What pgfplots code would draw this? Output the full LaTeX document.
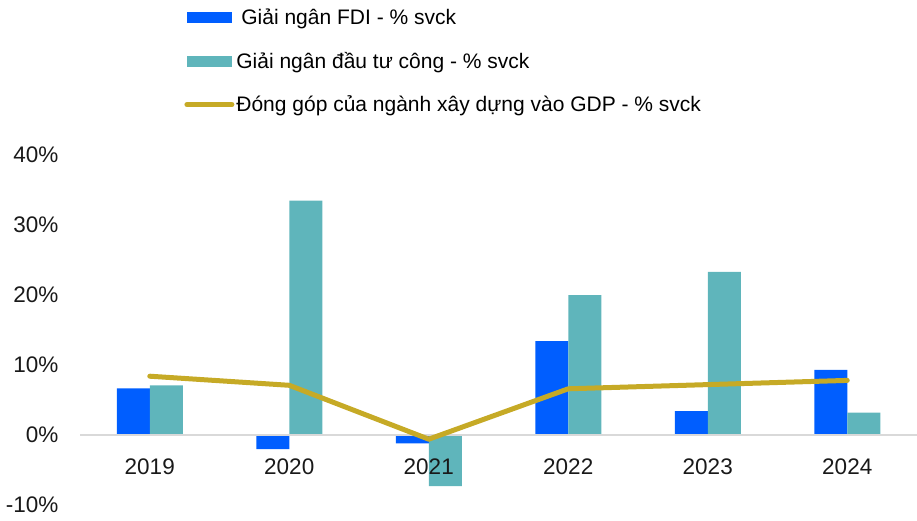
\documentclass[border=0pt]{standalone}
\usepackage{fontspec}
\setmainfont{Liberation Sans}
\usepackage{pgfplots}
\pgfplotsset{compat=1.18}
\definecolor{fdi}{RGB}{0,94,255}
\definecolor{pub}{RGB}{95,181,187}
\definecolor{gdp}{RGB}{198,170,38}
\begin{document}
\begin{tikzpicture}
\begin{axis}[
  set layers,
  scale only axis, width=837pt, height=350pt,
  at={(0,0)}, anchor=south west,
  xmin=-0.5, xmax=5.5, ymin=-10, ymax=40,
  axis on top,
  axis x line*=middle,
  axis y line*=left,
  x axis line style={draw=black!15, line width=1.5pt},
  y axis line style={draw=none},
  xtick={0,1,2,3,4,5},
  xticklabels={2019,2020,2021,2022,2023,2024},
  ytick={-10,0,10,20,30,40},
  yticklabels={-10\%,0\%,10\%,20\%,30\%,40\%},
  major tick length=0pt,
  tick style={draw=none},
  ticklabel style={font=\fontsize{22.5}{26}\selectfont, text=black!90},
  xticklabel style={yshift=-20pt},
  yticklabel style={xshift=-18pt},
  clip=false,
  legend cell align=left,
  legend style={draw=none, fill=none, at={(0.1245,1.423)}, anchor=north west,
    font=\fontsize{21}{25}\selectfont, row sep=22pt, inner sep=0pt},
]
\addplot[ybar, bar width=33pt, bar shift=-16.5pt, fill=fdi, draw=none,
  legend image code/.code={\fill[fdi] (0pt,-5.5pt) rectangle (45pt,5.5pt);}]
  coordinates {(0,6.65) (1,-2.0) (2,-1.2) (3,13.4) (4,3.4) (5,9.3)};
\addlegendentry{\hspace{5pt}Giải ngân FDI - \% svck}
\addplot[ybar, bar width=33pt, bar shift=16.5pt, fill=pub, draw=none,
  legend image code/.code={\fill[pub] (0pt,-5.5pt) rectangle (45pt,5.5pt);}]
  coordinates {(0,7.1) (1,33.5) (2,-7.3) (3,20.0) (4,23.3) (5,3.2)};
\addlegendentry{Giải ngân đầu tư công - \% svck}
\addplot[on layer=axis foreground, sharp plot, draw=gdp, line width=5pt, line cap=round, line join=round, mark=none,
  legend image code/.code={\draw[gdp, line width=5pt, line cap=round] (0pt,0pt) -- (45pt,0pt);}]
  coordinates {(0,8.4) (1,7.1) (2,-0.6) (3,6.6) (4,7.2) (5,7.8)};
\addlegendentry{Đóng góp của ngành xây dựng vào GDP - \% svck}
\end{axis}
\pgfresetboundingbox
\path (-80pt,-15pt) rectangle (837pt,505pt);
\end{tikzpicture}
\end{document}
